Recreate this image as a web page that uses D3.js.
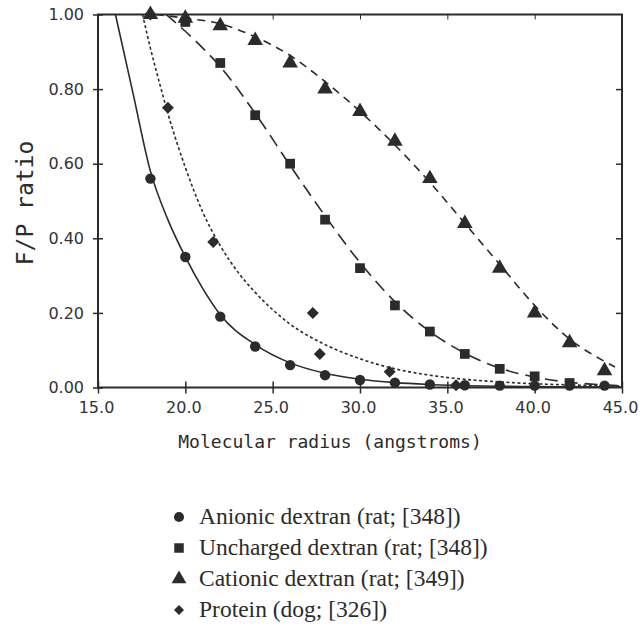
<!DOCTYPE html>
<html>
<head>
<meta charset="utf-8">
<script src="https://cdn.jsdelivr.net/npm/d3@7"></script>
<style>
  body { margin: 0; background: #fff; }
  svg { display: block; }
  .tick text { font-family: "DejaVu Sans", sans-serif; font-size: 16px; fill: #333; }
</style>
</head>
<body>
<svg width="644" height="627"></svg>
<script>
var svg = d3.select("svg");

// measured points
var anionicX = [18, 20, 22, 24, 26, 28, 30, 32, 34, 36, 38, 40, 42, 44];
var anionicY = [0.56, 0.35, 0.19, 0.11, 0.06, 0.033, 0.02, 0.013, 0.008, 0.006, 0.005, 0.005, 0.005, 0.005];

var unchargedX = [20, 22, 24, 26, 28, 30, 32, 34, 36, 38, 40, 42];
var unchargedY = [0.98, 0.87, 0.73, 0.60, 0.45, 0.32, 0.22, 0.15, 0.09, 0.05, 0.03, 0.012];

var cationicX = [18, 20, 22, 24, 26, 28, 30, 32, 34, 36, 38, 40, 42, 44];
var cationicY = [1.00, 0.99, 0.97, 0.93, 0.87, 0.80, 0.74, 0.66, 0.56, 0.44, 0.32, 0.20, 0.12, 0.045];

var proteinX = [18, 19, 21.6, 27.3, 27.7, 31.7, 35.5];
var proteinY = [1.00, 0.75, 0.39, 0.20, 0.09, 0.042, 0.006];

// fitted curves
var anionicFitX = [16, 17, 18, 19, 20, 21, 22, 24, 26, 28, 30, 32, 34, 37, 41, 45];
var anionicFitY = [1.0, 0.79, 0.58, 0.45, 0.35, 0.265, 0.195, 0.115, 0.066, 0.038, 0.022, 0.013, 0.008, 0.004, 0.002, 0.001];

var unchargedFitX = [18.9, 20, 21, 22, 24, 26, 28, 30, 32, 34, 36, 38, 40, 42, 44, 45];
var unchargedFitY = [1.0, 0.955, 0.91, 0.86, 0.735, 0.595, 0.46, 0.335, 0.23, 0.15, 0.092, 0.052, 0.028, 0.014, 0.007, 0.005];

var cationicFitX = [18.3, 20, 22, 24, 26, 28, 30, 32, 34, 36, 38, 40, 42, 44, 44.6];
var cationicFitY = [1.0, 0.99, 0.975, 0.94, 0.89, 0.82, 0.74, 0.65, 0.55, 0.44, 0.33, 0.22, 0.13, 0.07, 0.055];

var proteinFitX = [17.55, 18, 18.5, 19, 20, 21, 22, 23, 24, 26, 28, 30, 32, 34, 36, 38, 40, 42, 45];
var proteinFitY = [1.0, 0.91, 0.82, 0.735, 0.59, 0.47, 0.38, 0.31, 0.255, 0.17, 0.115, 0.077, 0.05, 0.033, 0.022, 0.015, 0.01, 0.007, 0.004];

var xTicks = [15, 20, 25, 30, 35, 40, 45];
var yTicks = [0, 0.2, 0.4, 0.6, 0.8, 1.0];

var legendLabels = [
  "Anionic dextran (rat; [348])",
  "Uncharged dextran (rat; [348])",
  "Cationic dextran (rat; [349])",
  "Protein (dog; [326])"
];

var ink = "#2b2b2b";

var x = d3.scaleLinear().domain([15, 45]).range([98, 622]);
var y = d3.scaleLinear().domain([0, 1]).range([387.5, 14.5]);

function zip(xs, ys) { return xs.map(function(v, i) { return [v, ys[i]]; }); }

// frame
svg.append("rect")
  .attr("x", x(15)).attr("y", y(1))
  .attr("width", x(45) - x(15)).attr("height", y(0) - y(1))
  .attr("fill", "none").attr("stroke", ink).attr("stroke-width", 2);

// axes
var gx = svg.append("g").attr("transform", "translate(0," + y(0) + ")")
  .call(d3.axisBottom(x).tickValues(xTicks).tickSize(6).tickFormat(d3.format(".1f")));
gx.select(".domain").remove();
gx.selectAll(".tick line").attr("y1", -6).attr("stroke", ink).attr("stroke-width", 1.5);
gx.selectAll(".tick text").attr("dy", "1.0em").attr("dx", "-2");

var gy = svg.append("g").attr("transform", "translate(" + x(15) + ",0)")
  .call(d3.axisLeft(y).tickValues(yTicks).tickSize(5).tickFormat(d3.format(".2f")));
gy.select(".domain").remove();
gy.selectAll(".tick line").attr("x1", 5).attr("stroke", ink).attr("stroke-width", 1.5);
gy.selectAll(".tick text").attr("x", -14);

var gt = svg.append("g").attr("transform", "translate(0," + y(1) + ")")
  .call(d3.axisBottom(x).tickValues([20, 25, 30, 35, 40]).tickSize(5).tickFormat(""));
gt.select(".domain").remove();
gt.selectAll(".tick line").attr("stroke", ink).attr("stroke-width", 1);

var gr = svg.append("g").attr("transform", "translate(" + x(45) + ",0)")
  .call(d3.axisLeft(y).tickValues([0.2, 0.4, 0.6, 0.8]).tickSize(6).tickFormat(""));
gr.select(".domain").remove();
gr.selectAll(".tick line").attr("stroke", ink).attr("stroke-width", 1.5);

// axis titles
svg.append("text")
  .attr("x", 330).attr("y", 448)
  .attr("text-anchor", "middle")
  .attr("font-family", "DejaVu Sans Mono, monospace")
  .attr("font-size", 18)
  .attr("fill", ink)
  .text("Molecular radius (angstroms)");

svg.append("text")
  .attr("transform", "translate(33,203) rotate(-90)")
  .attr("text-anchor", "middle")
  .attr("font-family", "DejaVu Sans Mono, monospace")
  .attr("font-size", 23)
  .attr("fill", ink)
  .text("F/P ratio");

// fitted lines
var line = d3.line()
  .x(function(d) { return x(d[0]); })
  .y(function(d) { return y(d[1]); })
  .curve(d3.curveMonotoneX);

var fits = [
  { pts: zip(anionicFitX, anionicFitY), dash: null },
  { pts: zip(unchargedFitX, unchargedFitY), dash: "13,7" },
  { pts: zip(cationicFitX, cationicFitY), dash: "8,6" },
  { pts: zip(proteinFitX, proteinFitY), dash: "3,2.5" }
];

svg.selectAll("path.fit")
  .data(fits).enter().append("path")
  .attr("class", "fit")
  .attr("d", function(d) { return line(d.pts); })
  .attr("fill", "none")
  .attr("stroke", ink)
  .attr("stroke-width", 1.6)
  .attr("stroke-dasharray", function(d) { return d.dash; });

// markers (diamond = rotated square)
var symCircle = d3.symbol().type(d3.symbolCircle).size(85);
var symSquare = d3.symbol().type(d3.symbolSquare).size(95);
var symTri = d3.symbol().type(d3.symbolTriangle).size(105);
var symDiamond = d3.symbol().type(d3.symbolSquare).size(72);

var series = [
  { pts: zip(anionicX, anionicY), sym: symCircle, rot: 0 },
  { pts: zip(unchargedX, unchargedY), sym: symSquare, rot: 0 },
  { pts: zip(cationicX, cationicY), sym: symTri, rot: 0 },
  { pts: zip(proteinX, proteinY), sym: symDiamond, rot: 45 }
];

series.forEach(function(s) {
  svg.append("g").selectAll("path")
    .data(s.pts).enter().append("path")
    .attr("d", s.sym)
    .attr("transform", function(d) { return "translate(" + x(d[0]) + "," + y(d[1]) + ") rotate(" + s.rot + ")"; })
    .attr("fill", ink);
});

// legend
var legendSyms = [
  { sym: d3.symbol().type(d3.symbolCircle).size(80), rot: 0 },
  { sym: d3.symbol().type(d3.symbolSquare).size(90), rot: 0 },
  { sym: d3.symbol().type(d3.symbolTriangle).size(95), rot: 0 },
  { sym: d3.symbol().type(d3.symbolSquare).size(50), rot: 45 }
];

var lg = svg.append("g");
legendLabels.forEach(function(label, i) {
  var by = 524 + i * 31;
  lg.append("path")
    .attr("d", legendSyms[i].sym)
    .attr("transform", "translate(179," + (by - 7) + ") rotate(" + legendSyms[i].rot + ")")
    .attr("fill", ink);
  lg.append("text")
    .attr("x", 199).attr("y", by)
    .attr("font-family", "Liberation Serif, serif")
    .attr("font-size", 23.5)
    .attr("fill", ink)
    .text(label);
});
</script>
</body>
</html>
